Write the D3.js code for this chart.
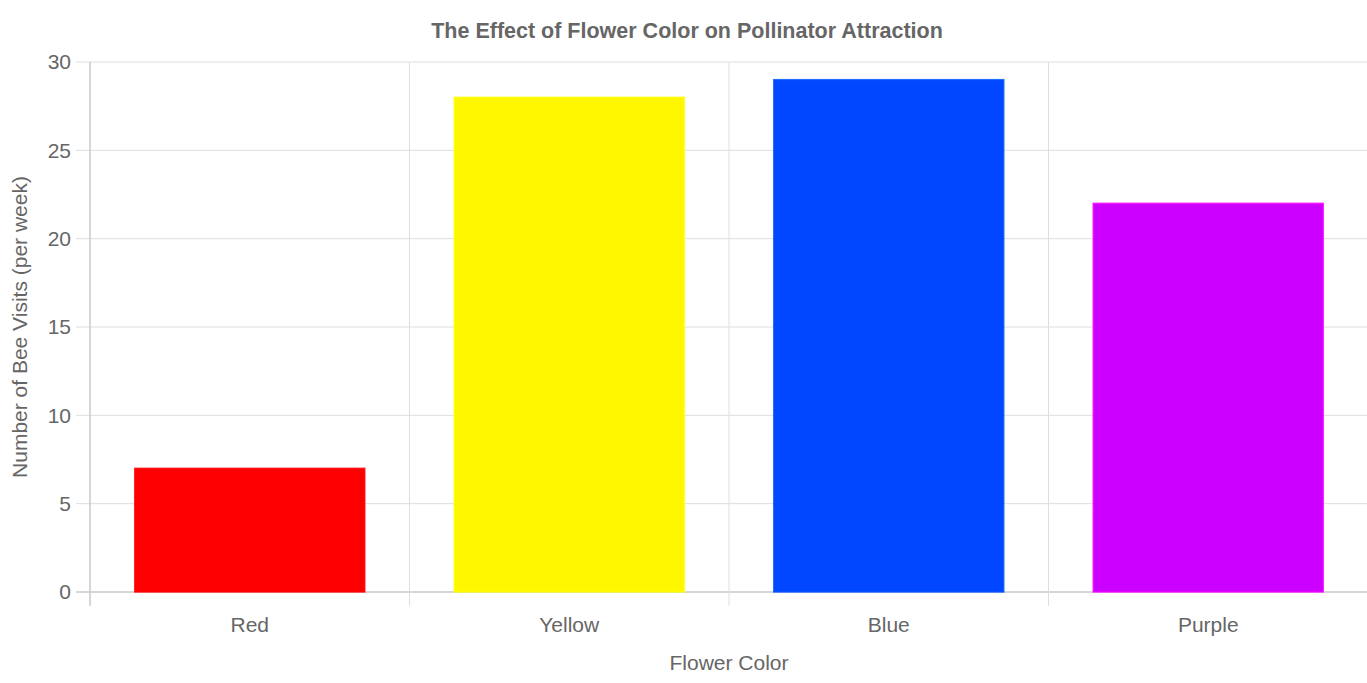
<!DOCTYPE html>
<html><head><meta charset="utf-8">
<script src="https://cdn.jsdelivr.net/npm/d3@7"></script>
<style>body{margin:0;background:#fff}svg{display:block}text{font-family:"Liberation Sans",Arial,sans-serif}</style>
</head><body><svg id="c" width="1367" height="683"></svg>
<script>
const categories = ["Red","Yellow","Blue","Purple"];
const values = [7,28,29,22];
const colors = ["#ff0000","#fff700","#0047ff","#cc00ff"];
const yTicks = [0,5,10,15,20,25,30];
const title = "The Effect of Flower Color on Pollinator Attraction";
const xTitle = "Flower Color";
const yTitle = "Number of Bee Visits (per week)";

const svg = d3.select("#c");
const m = {l:90, r:-1, t:62, b:91};
const W = 1367, H = 683;
const x = d3.scaleBand().domain(categories).range([m.l, W - m.r]).paddingInner(0.28).paddingOuter(0.14);
const y = d3.scaleLinear().domain([0,30]).range([H - m.b, m.t]);
const bw = x.step();

const g = svg.append("g");
g.selectAll("line.h").data(yTicks).join("line")
  .attr("x1", m.l - 14).attr("x2", W).attr("y1", d=>y(d)).attr("y2", d=>y(d))
  .attr("stroke", d=> d===0 ? "#c8c8c8" : "#dedede").attr("stroke-width", d=> d===0?1.5:1);
const bounds = d3.range(categories.length + 1).map(i => m.l + i*bw);
g.selectAll("line.v").data(bounds).join("line")
  .attr("x1", d=>d).attr("x2", d=>d).attr("y1", m.t).attr("y2", y(0) + 14)
  .attr("stroke", (d,i)=> i===0 ? "#c8c8c8" : "#dedede").attr("stroke-width", (d,i)=> i===0?1.5:1);

svg.selectAll("rect.bar").data(values).join("rect")
  .attr("x", (d,i)=> x(categories[i]))
  .attr("y", d=> y(d))
  .attr("width", x.bandwidth())
  .attr("height", d=> y(0) - y(d))
  .attr("fill", (d,i)=> colors[i])
  .attr("stroke", (d,i)=> d3.color(colors[i]).brighter(0.6))
  .attr("stroke-opacity", 0.8)
  .attr("stroke-width", 1.5);

svg.selectAll("text.yt").data(yTicks).join("text")
  .attr("x", m.l - 19).attr("y", d=>y(d)).attr("dy","0.35em")
  .attr("text-anchor","end").attr("fill","#666").attr("font-size", 21).text(d=>d);
svg.selectAll("text.xt").data(categories).join("text")
  .attr("x", d=> x(d) + x.bandwidth()/2).attr("y", 625).attr("dy","0.35em")
  .attr("text-anchor","middle").attr("fill","#666").attr("font-size", 21).text(d=>d);

svg.append("text").attr("x", 687).attr("y", 30).attr("dy","0.35em")
  .attr("text-anchor","middle").attr("fill","#666").attr("font-size", 21.5).attr("font-weight","bold").text(title);
svg.append("text").attr("x", 729).attr("y", 663).attr("dy","0.35em")
  .attr("text-anchor","middle").attr("fill","#666").attr("font-size", 21).text(xTitle);
svg.append("text").attr("transform", "translate(20,327) rotate(-90)").attr("dy","0.35em")
  .attr("text-anchor","middle").attr("fill","#666").attr("font-size", 21).text(yTitle);
</script></body></html>
